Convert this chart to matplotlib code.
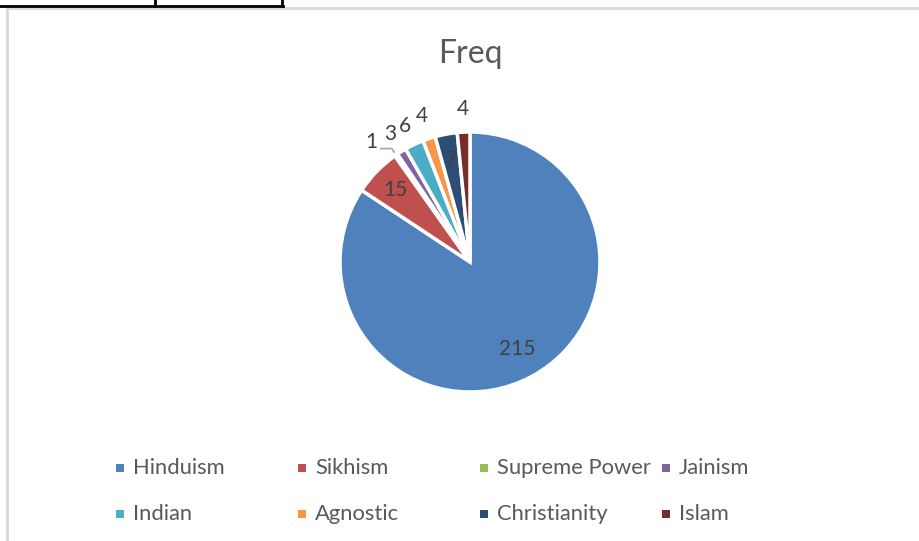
import numpy as np
import matplotlib.pyplot as plt
from matplotlib.patches import Rectangle
from matplotlib.lines import Line2D

plt.rcParams['font.family'] = ['Lato', 'DejaVu Sans']

religions = ['Hinduism', 'Sikhism', 'Supreme Power', 'Jainism',
             'Indian', 'Agnostic', 'Christianity', 'Islam']
freq = [215, 15, 1, 3, 6, 4, 7, 4]
colors = ['#4F81BD', '#C0504D', '#9BBB59', '#8064A2',
          '#4BACC6', '#F79646', '#2C4D75', '#772C2A']
# where each value label sits: radius as a fraction of the pie radius
label_r = [0.76, 0.80, 1.20, 1.16, 1.16, 1.18, 0.80, 1.18]

W, H = 920, 541
fig = plt.figure(figsize=(W / 100, H / 100), dpi=100)

# pie axes: centre (470, 262) px, radius 130 px
cx, cy, R = 470, 262, 130
ax = fig.add_axes([(cx - 1.5 * R) / W, (H - cy - 1.5 * R) / H, 3 * R / W, 3 * R / H])

wedges, _ = ax.pie(freq, colors=colors, startangle=90, counterclock=False,
                   radius=1.0, wedgeprops=dict(edgecolor='white', linewidth=2.5))
ax.set_xlim(-1.5, 1.5)
ax.set_ylim(-1.5, 1.5)
ax.set_aspect('equal')
ax.axis('off')

for i, w in enumerate(wedges):
    mid = np.deg2rad((w.theta1 + w.theta2) / 2)
    r = label_r[i]
    if religions[i] == 'Supreme Power':
        # tiny slice: label pushed aside with a leader line
        p0 = np.array([np.cos(mid), np.sin(mid)]) * 1.02
        p1 = np.array([np.cos(mid), np.sin(mid)]) * 1.06
        p2 = p1 + np.array([-0.09, 0])
        ax.plot([p0[0], p1[0], p2[0]], [p0[1], p1[1], p2[1]],
                color='#A6A6A6', lw=1.2, solid_capstyle='butt')
        ax.text(p2[0] - 0.02, p2[1] + 0.05, str(freq[i]), ha='right', va='center',
                fontsize=15, color='#404040')
        continue
    ax.text(r * np.cos(mid), r * np.sin(mid), str(freq[i]), ha='center', va='center',
            fontsize=15, color='#404040')

fig.text(cx / W, 1 - 54 / H, 'Freq', ha='center', va='center', fontsize=23, color='#595959')

# legend, two rows of four
for i, name in enumerate(religions):
    col, row = i % 4, i // 4
    x = 120 + 182 * col
    y = 468 + 46 * row
    fig.add_artist(Rectangle(((x - 4) / W, 1 - (y + 4) / H), 8 / W, 8 / H,
                             transform=fig.transFigure, color=colors[i], lw=0))
    fig.text((x + 13) / W, 1 - y / H, name, ha='left', va='center',
             fontsize=15.8, color='#595959')

# chart frame and the spreadsheet cell lines above it
grey = '#D9D9D9'
fig.add_artist(Line2D([7.5 / W, 1], [1 - 8 / H] * 2, transform=fig.transFigure, color=grey, lw=2))
fig.add_artist(Line2D([7.5 / W] * 2, [0, 1 - 8 / H], transform=fig.transFigure, color=grey, lw=2))
fig.add_artist(Line2D([0, 283 / W], [1 - 5.5 / H] * 2, transform=fig.transFigure, color='black', lw=2))
for xv in (155.5, 282):
    fig.add_artist(Line2D([xv / W] * 2, [1 - 5.5 / H, 1], transform=fig.transFigure, color='black', lw=2))

fig.savefig('out.png', dpi=100)
